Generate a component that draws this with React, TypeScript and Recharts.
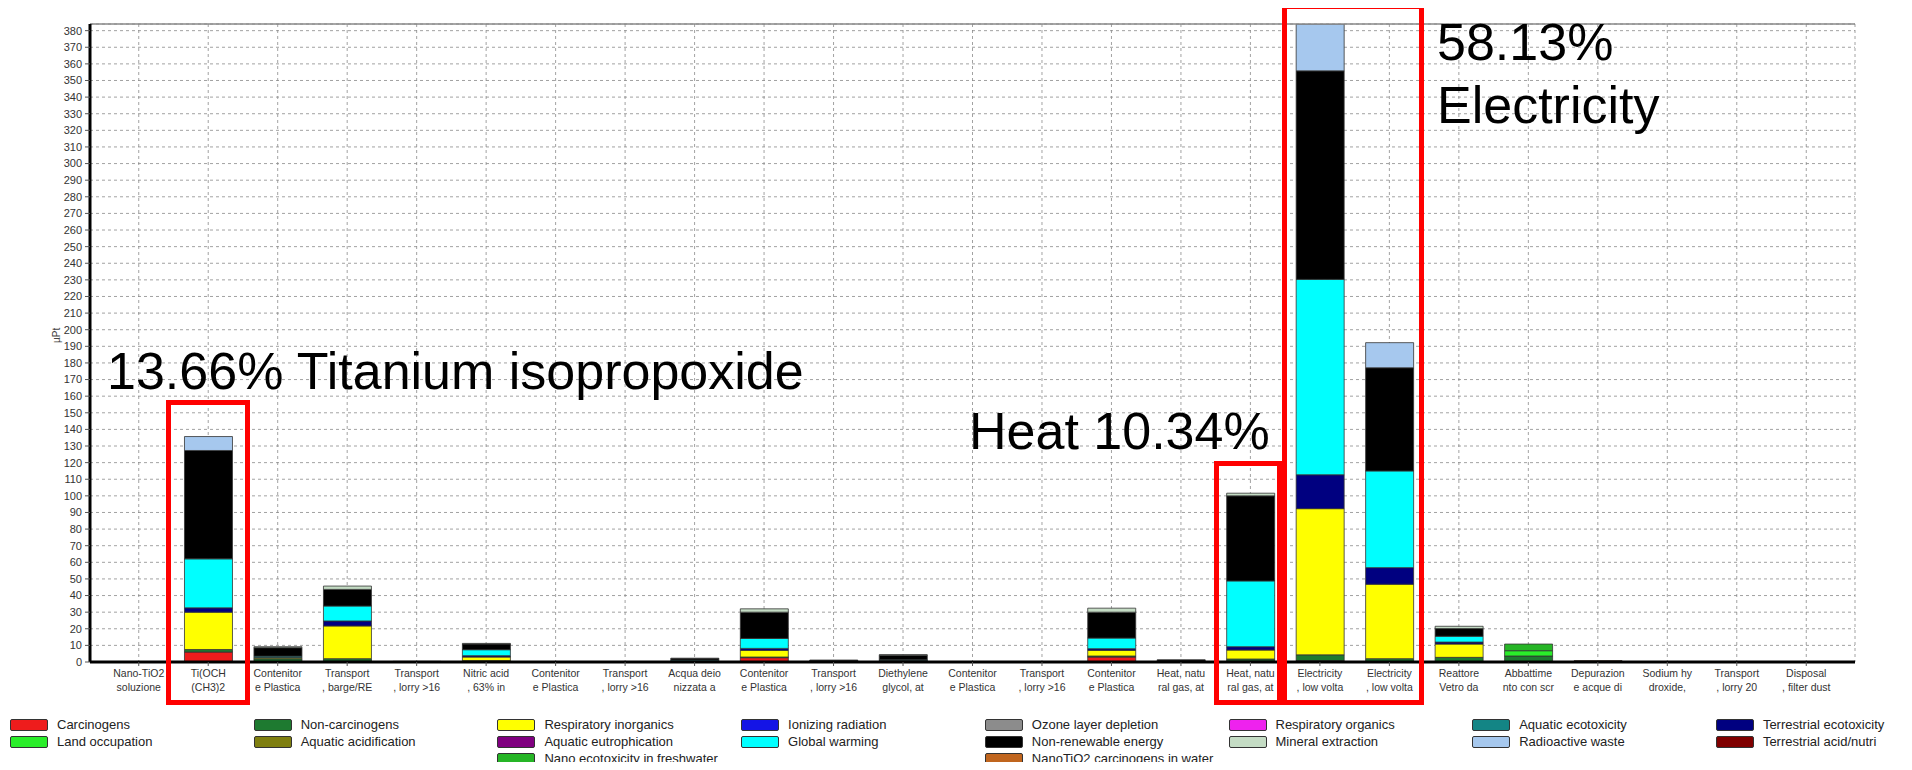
import { BarChart, Bar, XAxis, YAxis, CartesianGrid, ReferenceLine } from "recharts";

// ── categories (SimaPro wraps the process names at ~10 chars) ──────────
const categories = [
  "Nano-TiO2\nsoluzione", "Ti(OCH\n(CH3)2", "Contenitor\ne Plastica", "Transport\n, barge/RE",
  "Transport\n, lorry >16", "Nitric acid\n, 63% in", "Contenitor\ne Plastica", "Transport\n, lorry >16",
  "Acqua deio\nnizzata a", "Contenitor\ne Plastica", "Transport\n, lorry >16", "Diethylene\nglycol, at",
  "Contenitor\ne Plastica", "Transport\n, lorry >16", "Contenitor\ne Plastica", "Heat, natu\nral gas, at",
  "Heat, natu\nral gas, at", "Electricity\n, low volta", "Electricity\n, low volta", "Reattore\nVetro da",
  "Abbattime\nnto con scr", "Depurazion\ne acque di", "Sodium hy\ndroxide,", "Transport\n, lorry 20",
  "Disposal\n, filter dust",
];

// ── impact category values (µPt), one entry per category above ────────
const carcinogens =       [0, 6.0, 0.3, 0.5, 0, 0.3, 0, 0, 0.1, 2.6, 0, 0.1, 0, 0, 3.0, 0, 0.6, 0.8, 0.4, 0.3, 0, 0.05, 0, 0, 0];
const nonCarcinogens =    [0, 1.5, 1.6, 1.5, 0.05, 0.5, 0.05, 0.05, 0.2, 0.4, 0.05, 0.3, 0.05, 0.05, 0.6, 0.1, 1.2, 3.5, 1.6, 2.5, 3.6, 0.1, 0.05, 0, 0];
const respInorganics =    [0, 22.5, 0.6, 19.7, 0.1, 2.2, 0.05, 0.05, 0.3, 4.0, 0.1, 0.4, 0.05, 0.05, 3.4, 0.1, 5.4, 88.0, 44.8, 8.0, 0, 0.1, 0.05, 0.03, 0.02];
const ionizing =          [0, 0, 0, 0, 0, 0, 0, 0, 0, 0, 0, 0, 0, 0, 0, 0, 0, 0, 0, 0, 0, 0, 0, 0, 0];
const ozone =             [0, 0, 0, 0, 0, 0, 0, 0, 0, 0, 0, 0, 0, 0, 0, 0, 0, 0, 0, 0, 0, 0, 0, 0, 0];
const respOrganics =      [0, 0, 0, 0, 0, 0, 0, 0, 0, 0, 0, 0, 0, 0, 0, 0, 0, 0, 0, 0, 0, 0, 0, 0, 0];
const aquaticEcotox =     [0, 0, 0, 0, 0, 0, 0, 0, 0, 0, 0.6, 0, 0, 0, 0, 0, 0, 0, 0, 0, 0, 0, 0, 0, 0];
const terrEcotox =        [0, 2.6, 0.2, 3.0, 0, 0.8, 0, 0, 0.1, 1.2, 0, 0.1, 0, 0, 1.0, 0.05, 2.0, 20.4, 10.0, 1.2, 0, 0, 0, 0, 0];
const landOccupation =    [0, 0, 0, 0, 0, 0, 0, 0, 0, 0, 0, 0, 0, 0, 0, 0, 0, 0, 0, 0, 3.2, 0, 0, 0, 0];
const aquaticAcid =       [0, 0, 0, 0, 0, 0, 0, 0, 0, 0, 0, 0, 0, 0, 0, 0, 0, 0, 0, 0, 0, 0, 0, 0, 0];
const aquaticEutro =      [0, 0, 0, 0, 0, 0, 0, 0, 0, 0, 0, 0, 0, 0, 0, 0, 0, 0, 0, 0, 0, 0, 0, 0, 0];
const globalWarming =     [0, 29.5, 0.8, 9.0, 0.1, 3.6, 0.05, 0.05, 0.5, 6.0, 0.2, 0.4, 0.05, 0.05, 6.4, 0.3, 39.6, 117.6, 58.2, 3.5, 0, 0.1, 0.05, 0.03, 0.02];
const nonRenewable =      [0, 65.2, 5.1, 10.0, 0.15, 3.4, 0.1, 0.1, 0.9, 15.8, 0.15, 2.8, 0.1, 0.1, 15.6, 0.8, 51.2, 125.5, 62.1, 4.6, 0, 0.1, 0.05, 0.03, 0.02];
const mineralExtraction = [0, 0, 0.6, 2.0, 0, 0.4, 0, 0, 0.2, 2.0, 0, 0.3, 0, 0, 2.4, 0, 1.6, 0, 0, 1.4, 0, 0, 0, 0, 0];
const radioactiveWaste =  [0, 8.4, 0, 0, 0, 0, 0, 0, 0, 0, 0, 0, 0, 0, 0, 0, 0, 28.6, 15.1, 0, 0, 0, 0, 0, 0];
const terrAcidNutri =     [0, 0, 0, 0, 0, 0, 0, 0, 0, 0, 0, 0, 0, 0, 0, 0, 0, 0, 0, 0, 0, 0, 0, 0, 0];
const nanoEcotox =        [0, 0, 0, 0, 0, 0, 0, 0, 0, 0, 0, 0, 0, 0, 0, 0, 0, 0, 0, 0, 4.0, 0, 0, 0, 0];
const nanoCarcinogens =   [0, 0, 0, 0, 0, 0, 0, 0, 0, 0, 0, 0, 0, 0, 0, 0, 0, 0, 0, 0, 0, 0.3, 0, 0, 0];

const impactNames = [
  "Carcinogens", "Non-carcinogens", "Respiratory inorganics", "Ionizing radiation",
  "Ozone layer depletion", "Respiratory organics", "Aquatic ecotoxicity", "Terrestrial ecotoxicity",
  "Land occupation", "Aquatic acidification", "Aquatic eutrophication", "Global warming",
  "Non-renewable energy", "Mineral extraction", "Radioactive waste", "Terrestrial acid/nutri",
  "Nano ecotoxicity in freshwater", "NanoTiO2 carcinogens in water",
];
const impactColors = [
  "#ee1c1c", "#1e7a30", "#ffff00", "#1414e6",
  "#8c8c8c", "#ee22ee", "#138585", "#000080",
  "#2aee2a", "#7f7f10", "#800080", "#00ffff",
  "#000000", "#c4dcc4", "#a6c8ee", "#800000",
  "#26b526", "#c0651e",
];
const seriesValues = [
  carcinogens, nonCarcinogens, respInorganics, ionizing,
  ozone, respOrganics, aquaticEcotox, terrEcotox,
  landOccupation, aquaticAcid, aquaticEutro, globalWarming,
  nonRenewable, mineralExtraction, radioactiveWaste, terrAcidNutri,
  nanoEcotox, nanoCarcinogens,
];
// where each entry sits in the 8-column legend grid [col, row]
const legendSlots = [
  [0, 0], [1, 0], [2, 0], [3, 0], [4, 0], [5, 0], [6, 0], [7, 0],
  [0, 1], [1, 1], [2, 1], [3, 1], [4, 1], [5, 1], [6, 1], [7, 1],
  [2, 2], [4, 2],
];

const yTicks = [0, 10, 20, 30, 40, 50, 60, 70, 80, 90, 100, 110, 120, 130, 140, 150, 160, 170, 180, 190,
  200, 210, 220, 230, 240, 250, 260, 270, 280, 290, 300, 310, 320, 330, 340, 350, 360, 370, 380];

const data = categories.map((name, i) => {
  const row: Record<string, any> = { name };
  impactNames.forEach((k, j) => { row[k] = seriesValues[j][i]; });
  return row;
});

const FONT = "'Liberation Sans', Arial, sans-serif";

function CategoryTick({ x, y, payload }: any) {
  const lines = String(payload.value).split("\n");
  return (
    <g transform={`translate(${x},${y})`}>
      {lines.map((l, i) => (
        <text key={i} x={0} y={0} dy={9 + i * 14} textAnchor="middle" fontSize={10.5} fill="#333" fontFamily={FONT}>
          {l}
        </text>
      ))}
    </g>
  );
}

function ChartLegend() {
  return (
    <>
      {impactNames.map((name, i) => {
        const [col, row] = legendSlots[i];
        return (
          <div key={name} style={{
            position: "absolute", left: 10 + col * 243.7, top: 717 + row * 17,
            display: "flex", alignItems: "center", height: 15,
            fontFamily: FONT, fontSize: 13, color: "#222", whiteSpace: "nowrap",
          }}>
            <span style={{
              width: 36, height: 10, background: impactColors[i], border: "1.5px solid #333",
              borderRadius: 2, marginRight: 9, display: "inline-block",
            }} />
            {name}
          </div>
        );
      })}
    </>
  );
}

// red highlight boxes and call-out texts drawn over the figure
function Annotations() {
  const box = { fill: "none", stroke: "#ff0000", strokeWidth: 5 };
  const txt = { fontFamily: FONT, fontSize: 52, fill: "#000" };
  return (
    <svg width={1912} height={770} style={{ position: "absolute", left: 0, top: 0, pointerEvents: "none" }}>
      <rect x={168.5} y={402.5} width={79} height={300} {...box} />
      <rect x={1216.5} y={463.5} width={63} height={239} {...box} />
      <rect x={1284.5} y={6.5} width={137} height={696} {...box} />
      <text x={107} y={389} {...txt}>13.66% Titanium isopropoxide</text>
      <text x={969} y={449} {...txt}>Heat 10.34%</text>
      <text x={1437} y={60} {...txt}>58.13%</text>
      <text x={1437} y={123} {...txt}>Electricity</text>
    </svg>
  );
}

export default function App() {
  return (
    <div style={{ position: "relative", width: 1912, height: 770, margin: -8, background: "#fff", overflow: "hidden" }}>
      <BarChart width={1912} height={770} data={data} barSize={48}
        margin={{ top: 24, right: 57, left: 0, bottom: 0 }}>
        <CartesianGrid strokeDasharray="3 3" stroke="#8a8a8a" strokeWidth={0.8} />
        <XAxis
          dataKey="name" height={108} interval={0} padding={{ left: 14, right: 14 }}
          tick={<CategoryTick />} tickSize={4} tickMargin={2}
          axisLine={{ stroke: "#000", strokeWidth: 3 }} tickLine={{ stroke: "#555" }}
        />
        <YAxis
          width={90} domain={[0, 384]} ticks={yTicks} interval={0} allowDataOverflow
          tick={{ fill: "#333", fontSize: 11, fontFamily: FONT }} tickSize={5} tickMargin={3}
          axisLine={{ stroke: "#000", strokeWidth: 3 }} tickLine={{ stroke: "#555" }}
          label={{ value: "µPt", angle: -90, position: "insideLeft", offset: 56, fontSize: 10, fill: "#444", fontFamily: FONT }}
        />
        <YAxis yAxisId="frame" orientation="right" width={0} domain={[0, 384]} tick={false} tickLine={false}
          axisLine={{ stroke: "#000", strokeWidth: 2 }} />
        <ReferenceLine y={384} stroke="#888" strokeWidth={1.5} />
        {impactNames.map((name, i) => (
          <Bar key={name} dataKey={name} stackId="impact" fill={impactColors[i]}
            stroke="#333" strokeWidth={0.8} isAnimationActive={false} />
        ))}
      </BarChart>
      <ChartLegend />
      <Annotations />
    </div>
  );
}
